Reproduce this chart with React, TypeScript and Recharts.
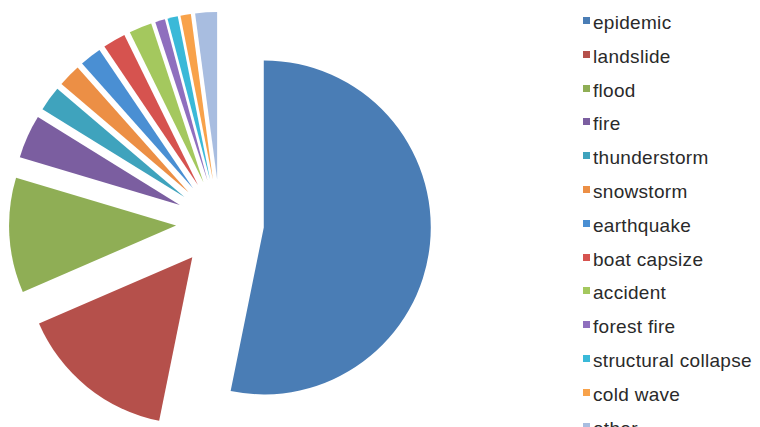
import React from 'react';
import { PieChart, Pie, Sector, Legend } from 'recharts';

const categories = [
  'epidemic',
  'landslide',
  'flood',
  'fire',
  'thunderstorm',
  'snowstorm',
  'earthquake',
  'boat capsize',
  'accident',
  'forest fire',
  'structural collapse',
  'cold wave',
  'other',
];

const shares = [53.1, 15.3, 11.1, 4.2, 2.4, 2.2, 2.1, 2.2, 2.2, 0.95, 1.0, 1.0, 2.1];

const colors = [
  '#4a7db5',
  '#b5504b',
  '#8fae55',
  '#7b5ea0',
  '#3fa3bd',
  '#ec8f45',
  '#4a8fd3',
  '#d6534f',
  '#a4c85e',
  '#8f6fbe',
  '#3ab9d8',
  '#f8a24a',
  '#a8bde0',
];

const data = categories.map((name, i) => ({ name, value: shares[i] }));

const RADIAN = Math.PI / 180;
const EXPLODE = 44;

const renderExploded = (props: any) => {
  const { cx, cy, innerRadius, outerRadius, startAngle, endAngle, midAngle, index } = props;
  const dx = Math.cos(-midAngle * RADIAN) * EXPLODE;
  const dy = Math.sin(-midAngle * RADIAN) * EXPLODE;
  return (
    <Sector
      key={`slice-${index}`}
      cx={cx + dx}
      cy={cy + dy}
      innerRadius={innerRadius}
      outerRadius={outerRadius}
      startAngle={startAngle}
      endAngle={endAngle}
      fill={colors[index]}
      stroke="none"
    />
  );
};

const renderLegend = () => (
  <div style={{ position: 'relative', width: 177, height: 427 }}>
    {categories.map((c, i) => (
      <React.Fragment key={c}>
        <div
          style={{
            position: 'absolute',
            left: 0,
            top: 17 + i * 33.8,
            width: 7,
            height: 7,
            background: colors[i],
          }}
        />
        <div
          style={{
            position: 'absolute',
            left: 10,
            top: 13 + i * 33.8,
            fontSize: 19,
            lineHeight: '19px',
            letterSpacing: 0.3,
            whiteSpace: 'nowrap',
            color: '#2a2a2a',
            fontFamily: '"Liberation Sans", Arial, sans-serif',
          }}
        >
          {c}
        </div>
      </React.Fragment>
    ))}
  </div>
);

export default function App() {
  return (
    <div style={{ position: 'absolute', left: 0, top: 0, width: 760, height: 427, overflow: 'hidden', background: '#fff' }}>
      <PieChart width={760} height={427} margin={{ top: 0, right: 0, bottom: 0, left: 0 }}>
        <Pie
          data={data}
          dataKey="value"
          nameKey="name"
          cx={220}
          cy={223}
          innerRadius={0}
          outerRadius={167}
          startAngle={90}
          endAngle={-270}
          fill="none"
          stroke="none"
          label={renderExploded}
          labelLine={false}
          isAnimationActive={false}
        />
        <Legend
          layout="vertical"
          align="right"
          verticalAlign="top"
          content={renderLegend}
          wrapperStyle={{ left: 583, right: 'auto', top: 0, width: 177, height: 427 }}
        />
      </PieChart>
    </div>
  );
}
